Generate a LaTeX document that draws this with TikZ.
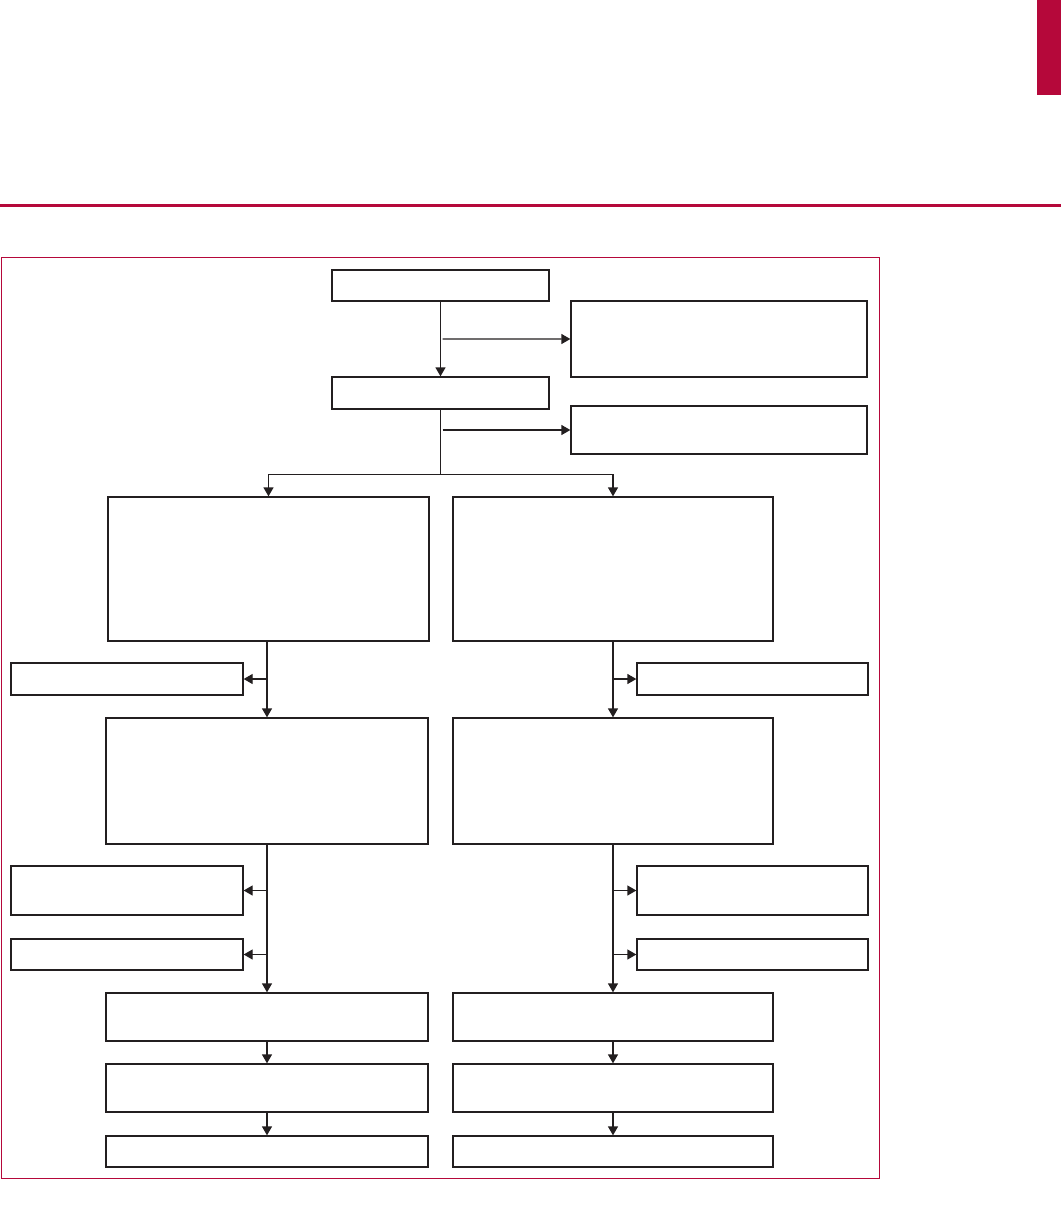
\documentclass[tikz,border=0pt]{standalone}
\usetikzlibrary{arrows.meta, fit, calc}

\definecolor{brand}{RGB}{181,8,58}
\definecolor{ink}{RGB}{35,31,32}

\tikzset{
	blk/.style={draw=ink, line width=0.65pt, inner sep=0pt, fit={#1}},
	arr/.style={draw=ink, line width=0.65pt, -{Triangle[length=4.5pt, width=5pt]}},
	ln/.style={draw=ink, line width=0.65pt}
}

\begin{document}
\begin{tikzpicture}[x=0.5pt, y=-0.5pt]
	\useasboundingbox (0, 0) rectangle (1061, 1217);

	% page furniture
	\fill[brand] (1037, 0) rectangle (1061, 95);
	\draw[brand, line width=1.6pt] (0, 205.5) -- (1061, 205.5);
	\draw[brand, line width=0.5pt] (1, 257) rectangle (879, 1178);

	% top of the chart
	\node[blk={(332, 270) (549, 301)}] (start) {};
	\node[blk={(571, 301) (867, 377)}] (out1) {};
	\node[blk={(332, 377) (549, 409)}] (check) {};
	\node[blk={(571, 406) (867, 454)}] (out2) {};

	% two branches
	\node[blk={(108, 497) (429, 641)}] (lbig) {};
	\node[blk={(453, 497) (773, 641)}] (rbig) {};

	\node[blk={(11, 663) (243, 695)}] (lside1) {};
	\node[blk={(637, 663) (868, 695)}] (rside1) {};

	\node[blk={(106, 718) (428, 844)}] (lmid) {};
	\node[blk={(453, 718) (773, 844)}] (rmid) {};

	\node[blk={(11, 866) (243, 915)}] (lside2) {};
	\node[blk={(11, 939) (243, 970)}] (lside3) {};
	\node[blk={(637, 866) (868, 915)}] (rside2) {};
	\node[blk={(637, 939) (868, 970)}] (rside3) {};

	\node[blk={(106, 993) (428, 1041)}] (lstep1) {};
	\node[blk={(106, 1064) (428, 1112)}] (lstep2) {};
	\node[blk={(106, 1136) (428, 1167)}] (lstep3) {};
	\node[blk={(453, 993) (773, 1041)}] (rstep1) {};
	\node[blk={(453, 1064) (773, 1112)}] (rstep2) {};
	\node[blk={(453, 1136) (773, 1167)}] (rstep3) {};

	% connectors, top
	\draw[arr] (start) -- (check);
	\draw[arr] ($(start.south)!.5!(check.north)$) ++(2, 0) -- (out1.west);
	\coordinate (split) at ($(check.south) + (0, 65)$);
	\draw[ln] (check) -- (split);
	\draw[arr] (check.south |- out2.west) ++(2, 0) -- (out2.west);
	\draw[arr] (split) -| (lbig.north);
	\draw[arr] (split) -| (rbig.north);

	% connectors, left
	\draw[arr] (lmid.north |- lbig.south) -- (lmid.north);
	\draw[arr] (lmid.north |- lside1.east) -- (lside1.east);
	\draw[arr] (lmid) -- (lstep1);
	\draw[arr] (lmid.south |- lside2.east) -- (lside2.east);
	\draw[arr] (lmid.south |- lside3.east) -- (lside3.east);
	\draw[arr] (lstep1) -- (lstep2);
	\draw[arr] (lstep2) -- (lstep3);

	% connectors, right
	\draw[arr] (rbig.south) -- (rbig.south |- rmid.north);
	\draw[arr] (rbig.south |- rside1.west) -- (rside1.west);
	\draw[arr] (rmid) -- (rstep1);
	\draw[arr] (rmid.south |- rside2.west) -- (rside2.west);
	\draw[arr] (rmid.south |- rside3.west) -- (rside3.west);
	\draw[arr] (rstep1) -- (rstep2);
	\draw[arr] (rstep2) -- (rstep3);
\end{tikzpicture}
\end{document}
